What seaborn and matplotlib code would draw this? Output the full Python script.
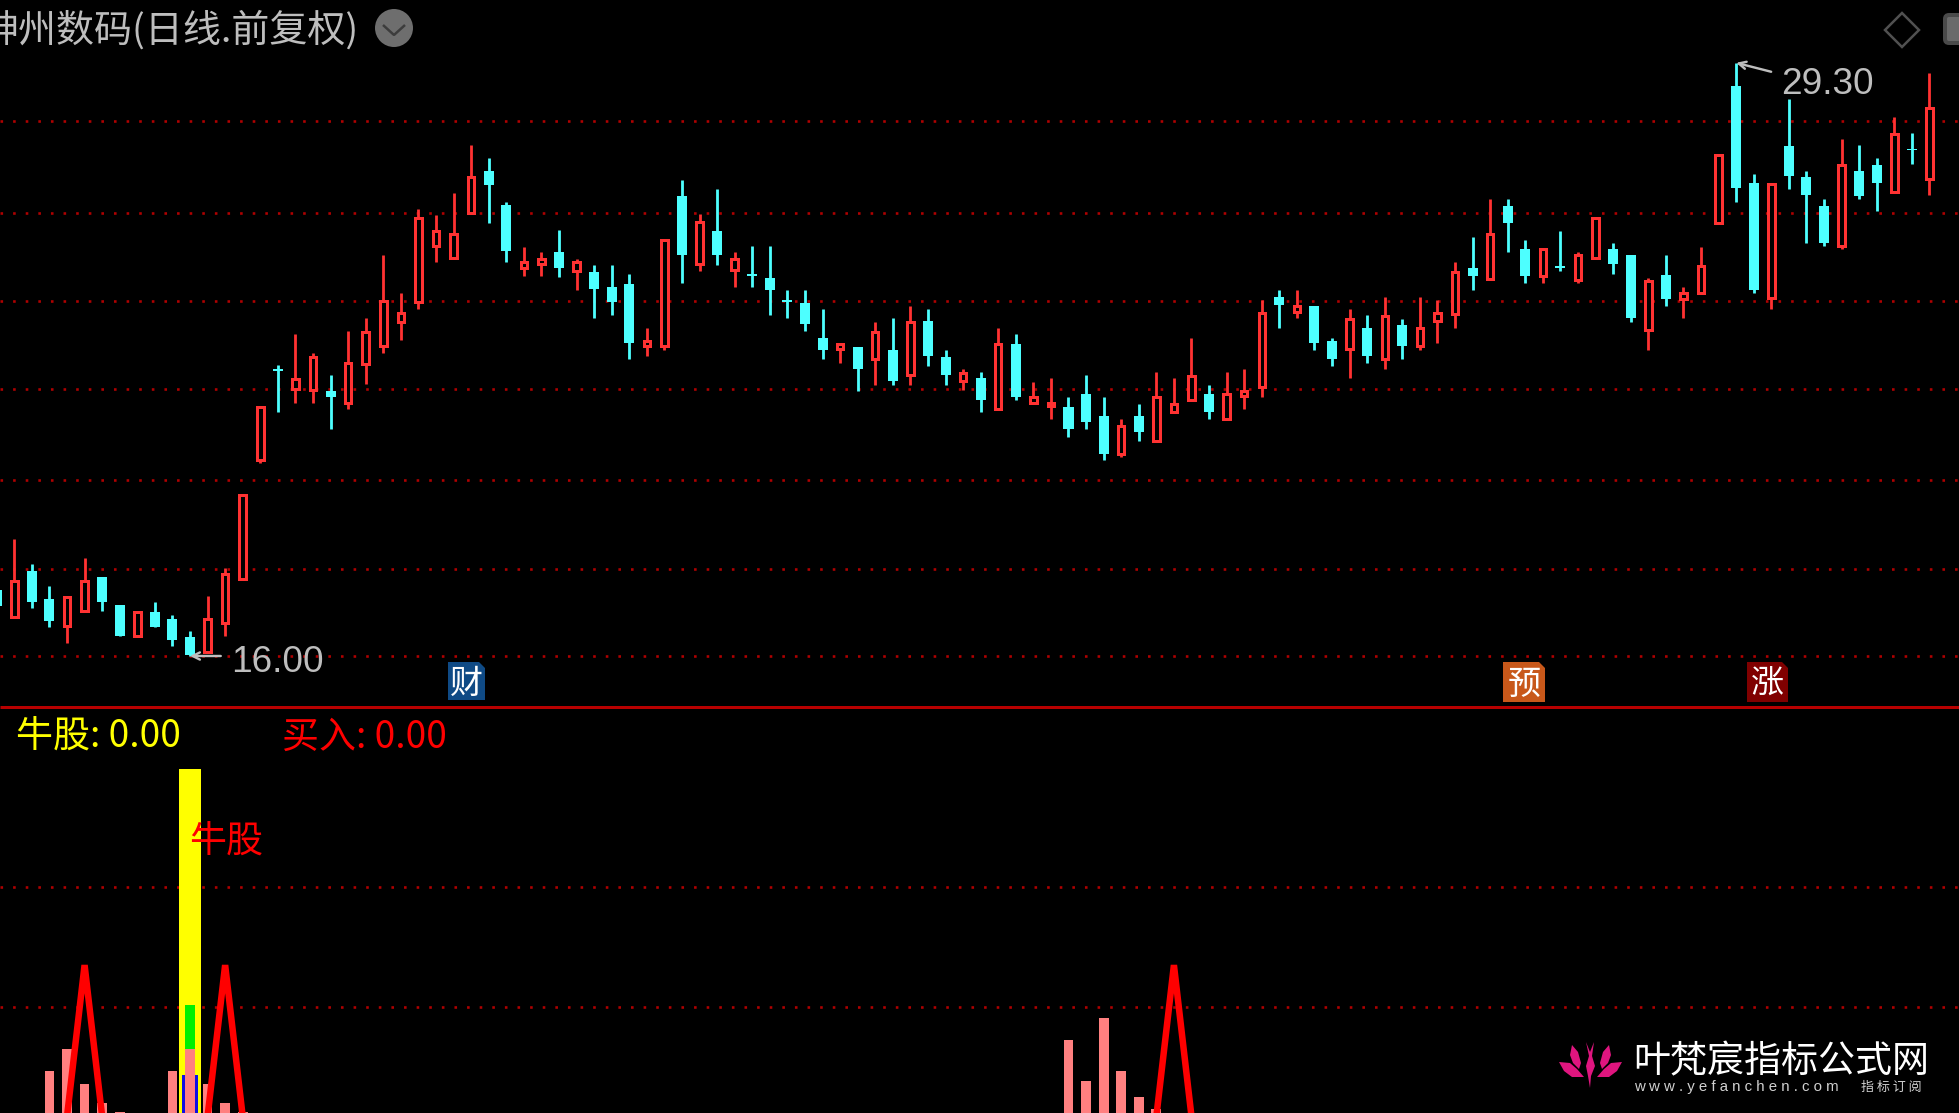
import matplotlib
matplotlib.use("Agg")
import matplotlib.pyplot as plt
import pandas as pd
import seaborn as sns
from matplotlib.patches import Circle, FancyBboxPatch, Polygon

W, H = 1959, 1113
CYAN = "#4DFFFF"
RED = "#FF3232"
GRID = "#B00000"
PINK = "#FF8080"
GREY = "#BEBEBE"

directions = (
    "crccrrccrc" "ccrrrrcrrc" "rrrrrrrrcc" "rrcrcccrrc" "rcrcccccrc"
    "rcrccrcrcr" "rcccrcrrrc" "rrrcrccrcr" "crrrcrccrc" "rrccrcrrrc" "crcccrccrcr"
)
highs = [
    17.52, 18.62, 18.06, 17.57, 17.33, 18.20, 17.77, 17.14, 16.99, 17.21, 16.92,
    16.57, 17.35, 17.97, 19.60, 21.58, 22.52, 23.22, 22.79, 22.30, 23.29, 23.58,
    24.99, 24.13, 26.03, 25.89, 26.39, 27.45, 27.17, 26.18, 25.18, 25.05, 25.55,
    24.90, 24.77, 24.77, 24.56, 23.35, 25.33, 26.67, 25.90, 26.46, 25.05, 25.19,
    25.19, 24.21, 24.21, 23.78, 23.00, 22.92, 23.49, 23.57, 23.85, 23.78, 22.86,
    22.43, 22.37, 23.35, 23.22, 22.15, 22.23, 21.80, 22.29, 21.80, 21.31, 21.66,
    22.36, 22.23, 23.14, 22.08, 22.36, 22.43, 23.98, 24.21, 24.21, 23.85, 23.14,
    23.77, 23.64, 24.06, 23.56, 24.06, 23.98, 24.84, 25.40, 26.24, 26.25, 25.33,
    25.12, 25.54, 25.05, 25.81, 25.27, 24.98, 24.48, 24.98, 24.27, 25.18, 27.23,
    29.30, 26.81, 26.58, 28.50, 26.88, 26.25, 27.59, 27.45, 27.17, 28.08, 27.73,
    29.08,
]
body_tops = [
    17.48, 17.69, 17.91, 17.28, 17.33, 17.69, 17.77, 17.14, 16.99, 16.99, 16.84,
    16.42, 16.84, 17.84, 19.60, 21.58, 22.43, 22.20, 22.71, 21.95, 22.56, 23.27,
    23.97, 23.70, 25.81, 25.54, 25.46, 26.73, 26.88, 26.11, 24.83, 24.91, 25.05,
    24.83, 24.62, 24.27, 24.34, 23.07, 25.33, 26.31, 25.74, 25.54, 24.90, 24.56,
    24.48, 23.98, 23.92, 23.14, 23.00, 22.92, 23.27, 22.86, 23.49, 23.50, 22.71,
    22.35, 22.23, 23.00, 23.00, 21.80, 21.67, 21.59, 21.87, 21.38, 21.16, 21.38,
    21.80, 21.65, 22.28, 21.87, 21.87, 21.95, 23.70, 24.06, 23.85, 23.85, 23.07,
    23.56, 23.35, 23.62, 23.42, 23.35, 23.70, 24.62, 24.69, 25.46, 26.10, 25.12,
    25.12, 24.74, 24.98, 25.81, 25.12, 24.98, 24.40, 24.54, 24.13, 24.74, 27.23,
    28.79, 26.60, 26.58, 27.44, 26.75, 26.10, 27.02, 26.88, 27.02, 27.70, 27.37,
    28.29,
]
body_bottoms = [
    17.11, 16.88, 17.22, 16.79, 16.67, 17.02, 17.22, 16.45, 16.45, 16.66, 16.36,
    16.02, 16.10, 16.73, 17.73, 20.39, 22.40, 21.98, 21.96, 21.80, 21.68, 22.55,
    22.94, 23.50, 23.94, 25.20, 24.92, 25.94, 26.55, 25.07, 24.71, 24.78, 24.71,
    24.64, 24.22, 23.94, 23.01, 22.94, 22.95, 24.99, 24.78, 24.99, 24.65, 24.51,
    24.21, 23.94, 23.44, 22.86, 22.88, 22.44, 22.67, 22.17, 22.31, 22.73, 22.30,
    22.17, 21.74, 21.54, 21.81, 21.68, 21.61, 21.10, 21.25, 20.53, 20.54, 21.03,
    20.83, 21.47, 21.75, 21.46, 21.32, 21.83, 22.04, 23.88, 23.72, 23.01, 22.66,
    22.88, 22.73, 22.66, 22.94, 22.94, 23.52, 23.67, 24.51, 24.45, 25.70, 24.51,
    24.51, 24.69, 24.42, 24.93, 24.78, 23.57, 23.31, 24.00, 24.01, 24.15, 25.70,
    26.49, 24.21, 24.02, 26.76, 26.34, 25.25, 25.19, 26.32, 26.61, 26.41, 27.35,
    26.70,
]
lows = [
    17.07, 16.88, 17.08, 16.66, 16.30, 17.02, 17.01, 16.45, 16.45, 16.66, 16.23,
    16.00, 16.10, 16.45, 17.73, 20.32, 21.46, 21.68, 21.68, 21.10, 21.53, 22.10,
    22.80, 23.09, 23.79, 24.84, 24.92, 25.94, 25.70, 24.83, 24.51, 24.51, 24.49,
    24.21, 23.57, 23.65, 22.65, 22.73, 22.86, 24.36, 24.64, 24.77, 24.28, 24.28,
    23.65, 23.57, 23.28, 22.65, 22.58, 21.95, 22.08, 22.08, 22.08, 22.51, 22.08,
    21.96, 21.46, 21.54, 21.74, 21.68, 21.32, 20.90, 21.10, 20.39, 20.47, 20.82,
    20.83, 21.47, 21.75, 21.31, 21.32, 21.53, 21.81, 23.36, 23.57, 22.86, 22.51,
    22.23, 22.58, 22.44, 22.66, 22.86, 23.01, 23.36, 24.21, 24.45, 25.06, 24.36,
    24.36, 24.64, 24.36, 24.93, 24.56, 23.50, 22.86, 23.85, 23.57, 24.15, 25.70,
    26.19, 24.13, 23.79, 26.48, 25.27, 25.19, 25.12, 26.25, 25.97, 26.41, 27.03,
    26.33,
]
price_levels = [16.00, 17.96, 19.94, 21.98, 23.96, 25.94, 27.99]

bar_days = [3, 4, 5, 6, 7, 10, 11, 12, 13, 14, 61, 62, 63, 64, 65, 66]
bar_values = [12.2, 18.6, 8.4, 2.9, 0.3, 12.2, 18.6, 8.4, 2.9, 0.3, 21.2, 9.3, 27.6, 12.2, 4.7, 1.2]
signal_day = 11
signal_yellow = 100.0
signal_green = 31.4
signal_blue = 11.0
spike_days = [4, 5, 6, 12, 13, 14, 66, 67, 68]
spike_values = [-1, 43, -1, -1, 43, -1, -1, 43, -1]
spike_ids = [0, 0, 0, 1, 1, 1, 2, 2, 2]
indicator_levels = [30.8, 65.7]

sns.set_theme(style="dark", rc={"axes.facecolor": "black", "figure.facecolor": "black"})
plt.rcParams["font.family"] = ["Noto Sans CJK SC", "DejaVu Sans"]
plt.rcParams["lines.solid_capstyle"] = "butt"
plt.rcParams["lines.solid_joinstyle"] = "bevel"

px = 72 / 100
x_limits = (3.27 / 17.57, (W + 3.27) / 17.57)


def style_axes(ax, levels):
    ax.set_xlim(x_limits)
    ax.set_xticks([])
    ax.set_yticks(levels)
    ax.tick_params(left=False, bottom=False, labelleft=False, labelbottom=False)
    ax.set_xlabel("")
    ax.set_ylabel("")
    ax.set_axisbelow(True)
    ax.grid(axis="y", color=GRID, linewidth=2.6 * px, linestyle=(0, (1, 3.85)))
    ax.grid(axis="x", visible=False)
    for spine in ax.spines.values():
        spine.set_visible(False)


fig = plt.figure(figsize=(W / 100, H / 100), dpi=100)
ax = fig.add_axes([0, 1 - 707 / H, 1, 707 / H])
ax2 = fig.add_axes([0, 0, 1, (H - 708) / H])

days = list(range(len(highs)))
wicks = pd.DataFrame(
    {
        "day": days + days,
        "price": highs + lows,
        "dir": list(directions) * 2,
    }
)
sns.lineplot(
    data=wicks, x="day", y="price", units="day", hue="dir",
    palette={"r": RED, "c": CYAN}, estimator=None, linewidth=2.8 * px,
    legend=False, ax=ax,
)
for day in days:
    height = body_tops[day] - body_bottoms[day]
    if directions[day] == "r":
        ax.bar(day, height, bottom=body_bottoms[day], width=0.37, facecolor="black",
               edgecolor=RED, linewidth=3 * px, zorder=3)
    else:
        ax.bar(day, height, bottom=body_bottoms[day], width=0.57, color=CYAN,
               linewidth=0, zorder=3)
style_axes(ax, price_levels)
ax.set_ylim(16 - 51 / 44.6, 16 + 656 / 44.6)

low_day = lows.index(min(lows))
high_day = highs.index(max(highs))
for day, value, offset, rel in [
    (low_day, lows[low_day], (41, -7), (0, 0.7)),
    (high_day, highs[high_day], (45, -22), (0, 0.8)),
]:
    ax.annotate(
        f"{value:.2f}", xy=(day, value), xytext=offset, textcoords="offset pixels",
        color=GREY, fontsize=37 * px, family="Liberation Sans", ha="left", va="center",
        arrowprops=dict(arrowstyle="->", color=GREY, lw=2.4 * px, shrinkA=5, shrinkB=0,
                        relpos=rel, mutation_scale=13),
        zorder=6,
    )

# indicator panel
bars = pd.DataFrame({"day": bar_days, "value": bar_values})
single = pd.DataFrame({"day": [signal_day]})
for value, color, width in [
    (signal_yellow, "#FFFF00", 1.25),
    (signal_green, "#00F000", 0.6),
    (signal_blue, "#1010E0", 0.92),
]:
    sns.barplot(data=single.assign(value=value), x="day", y="value", native_scale=True,
                width=width, color=color, saturation=1, errorbar=None, linewidth=0, ax=ax2)
sns.barplot(data=bars, x="day", y="value", native_scale=True, width=0.56, color=PINK,
            saturation=1, errorbar=None, linewidth=0, ax=ax2)
spikes = pd.DataFrame({"day": spike_days, "value": spike_values, "id": spike_ids})
sns.lineplot(data=spikes, x="day", y="value", units="id", estimator=None, color="#FF0000",
             linewidth=6.5 * px, legend=False, ax=ax2, zorder=5)
style_axes(ax2, indicator_levels)
ax2.set_ylim(0, 405 / 3.44)

# window furniture drawn in pixel coordinates
chrome = fig.add_axes([0, 0, 1, 1], facecolor="none")
chrome.set_xlim(0, W)
chrome.set_ylim(H, 0)
chrome.axis("off")
chrome.plot([0, W], [707, 707], color="#B80000", lw=3 * px)

chrome.text(-19, 31, "神州数码(日线.前复权)", color=GREY, fontsize=38 * px, va="center")
chrome.add_patch(Circle((394, 28), 19, color="#6E6E6E", lw=0))
chrome.plot([383, 394, 405], [25, 35, 25], color="#3C3C3C", lw=2.5 * px)
chrome.add_patch(Polygon([(1902, 13), (1919, 30), (1902, 47), (1885, 30)], fill=False,
                         edgecolor="#505050", lw=2.5 * px))
chrome.add_patch(FancyBboxPatch((1945, 15), 30, 28, boxstyle="round,pad=0,rounding_size=4",
                                facecolor="#6A6A6A", edgecolor="#4A4A4A", lw=4 * px))

for label, x0, x1, y1, color in [
    ("财", 448, 485, 700, "#0F4A85"),
    ("预", 1503, 1545, 702, "#C8581A"),
    ("涨", 1747, 1788, 702, "#800000"),
]:
    chrome.add_patch(Polygon([(x0, 662), (x1 - 6, 662), (x1, 668), (x1, y1), (x0, y1)],
                             color=color, lw=0))
    chrome.text((x0 + x1) / 2, (662 + y1) / 2 + 2, label, color="white", fontsize=33 * px,
                ha="center", va="center")

chrome.text(16, 737, "牛股: 0.00", color="#FFFF00", fontsize=37 * px, va="center")
chrome.text(282, 737, "买入: 0.00", color="#FF0000", fontsize=37 * px, va="center")
chrome.text(189, 842, "牛股", color="#FF0000", fontsize=37 * px, va="center")

# site logo
MAGENTA = "#E0157F"
petals = [
    [(1559, 1062), (1570, 1063), (1577, 1069), (1584, 1077), (1572, 1077), (1564, 1071)],
    [(1572, 1045), (1578, 1052), (1581, 1063), (1579, 1069), (1573, 1063), (1570, 1055)],
    [(1622, 1062), (1611, 1063), (1604, 1069), (1597, 1077), (1609, 1077), (1617, 1071)],
    [(1609, 1045), (1603, 1052), (1600, 1063), (1602, 1069), (1608, 1063), (1611, 1055)],
    [(1586, 1042), (1590, 1052), (1594, 1042), (1592, 1056), (1595, 1066), (1591, 1076),
     (1590, 1088), (1588, 1076), (1586, 1066), (1589, 1056)],
]
for petal in petals:
    chrome.add_patch(Polygon(petal, color=MAGENTA, lw=0))
chrome.text(1633, 1062, "叶梵宸指标公式网", color="white", fontsize=37 * px, va="center")
chrome.text(1634, 1087, "w w w . y e f a n c h e n . c o m", color="#D0D0D0", fontsize=15 * px,
            va="center", family="Liberation Sans")
chrome.text(1861, 1087, "指 标 订 阅", color="#D0D0D0", fontsize=13 * px, va="center")

fig.savefig("out.png", dpi=100, facecolor="black")
